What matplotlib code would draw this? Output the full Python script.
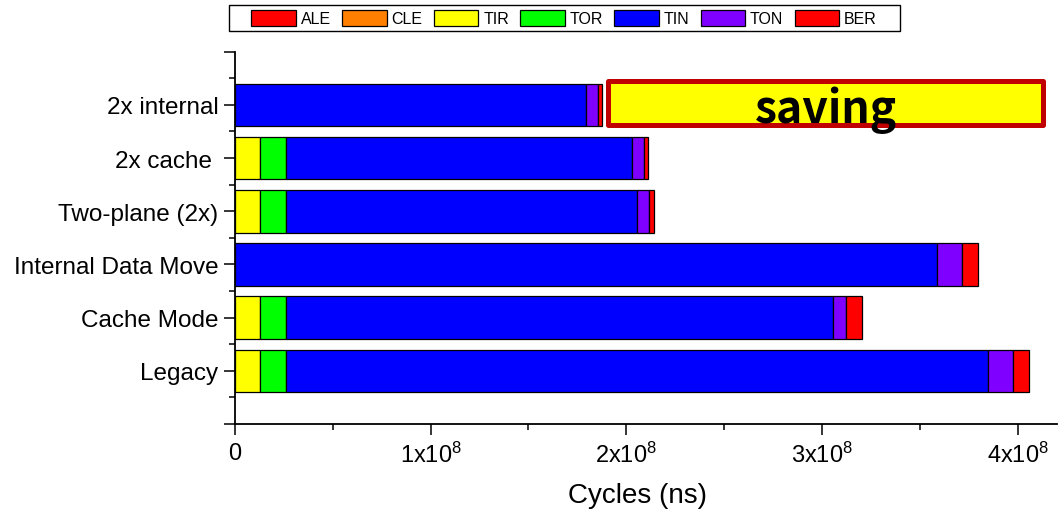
import matplotlib
matplotlib.use("Agg")
import matplotlib.pyplot as plt
from matplotlib.patches import Patch, Rectangle
from matplotlib.ticker import FuncFormatter, MultipleLocator
import numpy as np

plt.rcParams['font.family'] = ['Liberation Sans', 'DejaVu Sans']
plt.rcParams['mathtext.fontset'] = 'custom'
plt.rcParams['mathtext.rm'] = 'Liberation Sans'
plt.rcParams['mathtext.default'] = 'regular'

# Data (bottom to top), values in units of 1e8 ns
categories = ["Legacy", "Cache Mode", "Internal Data Move", "Two-plane (2x)", "2x cache ", "2x internal"]
series_names = ["ALE", "CLE", "TIR", "TOR", "TIN", "TON", "BER"]
series_colors = ["#FF0000", "#FF8000", "#FFFF00", "#00FF00", "#0000FF", "#8000FF", "#FF0000"]
ALE = [0, 0, 0, 0, 0, 0]
CLE = [0, 0, 0, 0, 0, 0]
TIR = [0.129, 0.129, 0, 0.129, 0.129, 0]
TOR = [0.131, 0.131, 0, 0.131, 0.131, 0]
TIN = [3.589, 2.795, 3.587, 1.796, 1.769, 1.794]
TON = [0.128, 0.070, 0.129, 0.061, 0.063, 0.063]
BER = [0.080, 0.082, 0.080, 0.024, 0.020, 0.020]
scale = 1e8
saving_text = "saving"

fig = plt.figure(figsize=(10.64, 5.10), dpi=100)
ax = fig.add_axes([0.2209, 0.1667, 0.7722, 0.7300])

ypos = np.arange(1, len(categories) + 1)
left = np.zeros(len(categories))
for name, color, vals in zip(series_names, series_colors, [ALE, CLE, TIR, TOR, TIN, TON, BER]):
    v = np.array(vals) * scale
    ax.barh(ypos, v, left=left, height=0.8, color=color, edgecolor='black', linewidth=0.9, label=name)
    left += v

ax.set_xlim(0, 4.2e8)
ax.set_ylim(0, 7)
ax.yaxis.set_minor_locator(MultipleLocator(0.5))
ax.set_yticks(list(range(0, 8)))
ax.set_yticklabels([""] + categories + [""], fontsize=17.5)

ax.xaxis.set_major_locator(MultipleLocator(1e8))
ax.xaxis.set_minor_locator(MultipleLocator(0.5e8))

def fmt(x, pos):
    k = int(round(x / 1e8))
    if k == 0:
        return "0"
    return f"{k}x10$^{{8}}$"

ax.xaxis.set_major_formatter(FuncFormatter(fmt))
ax.tick_params(axis='x', which='major', labelsize=17, length=8, width=1.1, direction='out', pad=5)
ax.tick_params(axis='x', which='minor', length=4, width=1.1, direction='out')
ax.tick_params(axis='y', which='major', length=8, width=1.1, direction='out', pad=4)
ax.tick_params(axis='y', which='minor', length=4, width=1.1, direction='out')
ax.set_xlabel("Cycles (ns)", fontsize=20, labelpad=7)
ax.xaxis.set_label_coords(0.490, -0.155)

for s in ['top', 'right']:
    ax.spines[s].set_visible(False)
for s in ['left', 'bottom']:
    ax.spines[s].set_linewidth(1.3)

# saving box
box = Rectangle((1.909e8, 5.62), 4.132e8 - 1.909e8, 6.45 - 5.62, facecolor='#FFFF00',
                edgecolor='#C00000', linewidth=3.6, joinstyle='round', zorder=5)
ax.add_patch(box)
ax.text(3.021e8, 5.672, saving_text, ha='center', va='baseline', fontsize=32, fontweight='bold',
        family=['Noto Sans CJK KR', 'DejaVu Sans'], zorder=6)

handles = [Patch(facecolor=c, edgecolor='black', linewidth=0.9, label=n) for n, c in zip(series_names, series_colors)]
leg = fig.legend(handles=handles, loc='center', bbox_to_anchor=(0.5301, 0.9627), ncol=7, fontsize=11.5,
                 frameon=False, handlelength=2.8, handleheight=1.25,
                 handletextpad=0.3, columnspacing=0.7, borderpad=0.25, borderaxespad=0)
frame = Rectangle((229 / 1064, 1 - 32 / 510), (900 - 229) / 1064, 26 / 510, transform=fig.transFigure,
                  facecolor='white', edgecolor='black', linewidth=1.0, zorder=0)
fig.patches.append(frame)

fig.savefig("out.png", dpi=100)
